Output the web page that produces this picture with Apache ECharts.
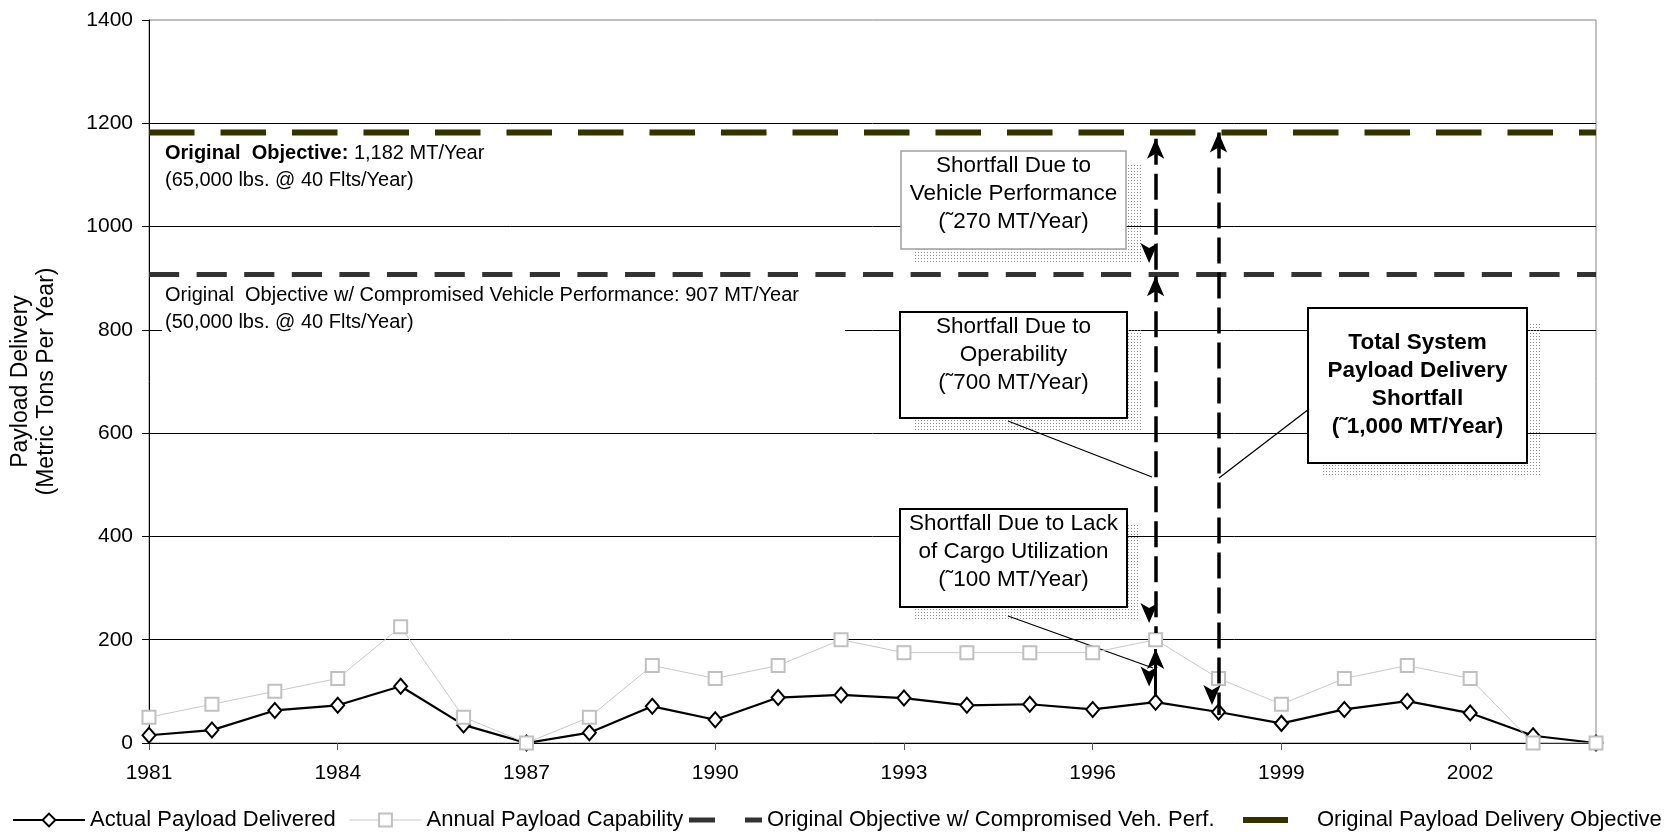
<!DOCTYPE html>
<html>
<head>
<meta charset="utf-8">
<script src="https://cdn.jsdelivr.net/npm/echarts@6/dist/echarts.min.js"></script>
<style>html,body{margin:0;padding:0;background:#fff}#c{width:1671px;height:835px}</style>
</head>
<body>
<div id="c"></div>
<script>
// ---------- data ----------
const years = ['1981','1982','1983','1984','1985','1986','1987','1988','1989','1990','1991','1992',
               '1993','1994','1995','1996','1997','1998','1999','2000','2001','2002','2003','2004'];
const actualDelivered = [15,25,63,73,110,35,0,20,71,45,88,93,87,73,75,65,79,60,38,65,81,58,14,0];
const annualCapability = [50,75,100,125,225,50,0,50,150,125,150,200,175,175,175,175,200,125,75,125,150,125,0,0];
const objectiveOriginal = 1182;
const objectiveCompromised = 907;
const yMin = 0, yMax = 1400, yStep = 200;
// shortfall arrows (year, from value, to value)
const shortfallVehicle = ['1997', 1170, 910];
const shortfallOperability = ['1997', 904, 213];
const shortfallCargo = ['1997', 182, 90];
const shortfallTotal = ['1998', 1182, 54];

const FONT = '"Liberation Sans", Arial, sans-serif';
const chart = echarts.init(document.getElementById('c'), null, {renderer: 'canvas', width: 1671, height: 835});

function dotPattern() {
  const c = document.createElement('canvas');
  c.width = 3; c.height = 3;
  const g = c.getContext('2d');
  g.fillStyle = '#8f8f8f';
  g.fillRect(0, 0, 1, 1);
  return {image: c, repeat: 'repeat'};
}
const pattern = dotPattern();

function annotBox(x, y, w, h, stroke, lw, sx, sy, sw, sh) {
  return [
    {type: 'rect', z: 1, silent: true, shape: {x: sx, y: sy, width: sw, height: sh}, style: {fill: pattern}},
    {type: 'rect', z: 1, silent: true, shape: {x: x, y: y, width: w, height: h}, style: {fill: '#fff', stroke: stroke, lineWidth: lw}}
  ];
}
function boxText(text, cx, cy, bold) {
  return {type: 'text', z: 2, silent: true, style: {
    text: text, x: cx, y: cy, align: 'center', verticalAlign: 'middle',
    fontSize: 22.5, fontFamily: FONT, fontWeight: bold ? 'bold' : 'normal', lineHeight: 28, fill: '#000'
  }};
}
function leader(x1, y1, x2, y2) {
  return {type: 'line', z: 2, silent: true, shape: {x1: x1, y1: y1, x2: x2, y2: y2}, style: {stroke: '#000', lineWidth: 1.3}};
}

const graphics = [].concat(
  // white background of the compromised-objective label
  [{type: 'rect', z: 1, silent: true, shape: {x: 162, y: 282, width: 683, height: 54}, style: {fill: '#fff'}}],
  annotBox(901, 151, 225, 98, '#a0a0a0', 1.5, 914, 165, 227, 98),
  annotBox(900, 312, 227, 106, '#000', 2, 914, 328, 227, 103),
  annotBox(900, 509, 227, 98, '#000', 2, 914, 524, 226, 96),
  annotBox(1308, 308, 219, 155, '#000', 2, 1321, 324, 221, 152),
  [
    boxText('Shortfall Due to\nVehicle Performance\n(\u02DC270 MT/Year)', 1013.5, 193.5),
    boxText('Shortfall Due to\nOperability\n(\u02DC700 MT/Year)', 1013.5, 355),
    boxText('Shortfall Due to Lack\nof Cargo Utilization\n(\u02DC100 MT/Year)', 1013.5, 551.5),
    boxText('Total System\nPayload Delivery\nShortfall\n(\u02DC1,000 MT/Year)', 1417.5, 385, true),
    leader(1008, 421, 1152, 477),
    leader(1008, 616, 1153, 668),
    leader(1309, 409, 1219, 478),
    {type: 'text', z: 2, silent: true, style: {
      text: '{b|Original  Objective:}{n| 1,182 MT/Year}\n{n|(65,000 lbs. @ 40 Flts/Year)}',
      x: 165, y: 167, verticalAlign: 'middle', align: 'left', lineHeight: 27,
      fontSize: 20, fontFamily: FONT, fill: '#000',
      rich: {
        b: {fontWeight: 'bold', fontSize: 20, fontFamily: FONT, lineHeight: 27, fill: '#000'},
        n: {fontSize: 20, fontFamily: FONT, lineHeight: 27, fill: '#000'}
      }
    }},
    {type: 'text', z: 2, silent: true, style: {
      text: 'Original  Objective w/ Compromised Vehicle Performance: 907 MT/Year\n(50,000 lbs. @ 40 Flts/Year)',
      x: 165, y: 308.5, verticalAlign: 'middle', align: 'left', lineHeight: 27,
      fontSize: 20, fontFamily: FONT, fill: '#000'
    }}
  ]
);

const arrowLine = (seg, dashed, width) => [
  {coord: [seg[0], seg[1]], lineStyle: {type: dashed ? [26, 9] : 'solid', width: width, color: '#000'}},
  {coord: [seg[0], seg[2]]}
];

const legendText = {fontSize: 22, fontFamily: FONT, color: '#000'};
const legendBase = {top: 809, orient: 'horizontal', selectedMode: false, textStyle: legendText, padding: 0};

chart.setOption({
  animation: false,
  backgroundColor: '#fff',
  grid: {left: 149, right: 75, top: 20, bottom: 92, show: true, borderColor: '#808080', borderWidth: 1, backgroundColor: 'transparent'},
  xAxis: {
    type: 'category', data: years, boundaryGap: false,
    axisLine: {show: true, lineStyle: {color: '#000', width: 1}},
    axisTick: {show: true, interval: 2, length: 7, lineStyle: {color: '#555'}},
    axisLabel: {interval: 2, fontSize: 21, fontFamily: FONT, color: '#000', margin: 20},
    splitLine: {show: false}
  },
  yAxis: {
    type: 'value', min: yMin, max: yMax, interval: yStep,
    name: 'Payload Delivery\n(Metric Tons Per Year)', nameLocation: 'middle', nameGap: 89,
    nameTextStyle: {fontSize: 23, fontFamily: FONT, color: '#000', lineHeight: 26},
    axisLine: {show: true, lineStyle: {color: '#000', width: 1}},
    axisTick: {show: true, length: 7, lineStyle: {color: '#000'}},
    axisLabel: {fontSize: 21, fontFamily: FONT, color: '#000', margin: 16, formatter: (v) => String(v)},
    splitLine: {show: true, showMaxLine: false, lineStyle: {color: '#000', width: 1}}
  },
  legend: [
    Object.assign({}, legendBase, {left: 12, itemWidth: 72, itemHeight: 16, data: ['Actual Payload Delivered']}),
    Object.assign({}, legendBase, {left: 349, itemWidth: 72, itemHeight: 16, lineStyle: {width: 1}, data: ['Annual Payload Capability']}),
    Object.assign({}, legendBase, {left: 689, itemWidth: 73, itemHeight: 5,
      data: [{name: 'Original Objective w/ Compromised Veh. Perf.', icon: 'path://M0,0H26V5H0ZM56,0H73V5H56Z'}]}),
    Object.assign({}, legendBase, {left: 1243, itemWidth: 45, itemHeight: 6,
      textStyle: Object.assign({}, legendText, {padding: [0, 0, 0, 24]}),
      data: [{name: 'Original Payload Delivery Objective', icon: 'rect'}]})
  ],
  graphic: graphics,
  series: [
    {
      name: 'Actual Payload Delivered', type: 'line', data: actualDelivered, z: 3,
      symbol: 'diamond', symbolSize: [13, 15], showAllSymbol: true,
      itemStyle: {color: '#fff', borderColor: '#000', borderWidth: 2},
      lineStyle: {color: '#000', width: 2.2}
    },
    {
      name: 'Annual Payload Capability', type: 'line', data: annualCapability, z: 4,
      symbol: 'rect', symbolSize: 13, showAllSymbol: true,
      itemStyle: {color: '#fff', borderColor: '#c0c0c0', borderWidth: 2},
      lineStyle: {color: '#c8c8c8', width: 1}
    },
    {
      name: 'Original Objective w/ Compromised Veh. Perf.', type: 'line', z: 2,
      data: [[years[0], objectiveCompromised], [years[years.length - 1], objectiveCompromised]],
      symbol: 'none', itemStyle: {color: '#333333'},
      lineStyle: {color: '#333333', width: 5, type: [30.2, 17.4]}
    },
    {
      name: 'Original Payload Delivery Objective', type: 'line', z: 5,
      data: [[years[0], objectiveOriginal], [years[years.length - 1], objectiveOriginal]],
      symbol: 'none', itemStyle: {color: '#333300'},
      lineStyle: {color: '#333300', width: 6, type: [45.5, 26]},
      markLine: {
        silent: true, animation: false,
        symbol: ['arrow', 'arrow'], symbolSize: [13, 20], symbolOffset: [0, '50%'],
        label: {show: false},
        emphasis: {disabled: true},
        lineStyle: {color: '#000'},
        itemStyle: {color: '#000'},
        data: [
          arrowLine(shortfallVehicle, true, 3.5),
          arrowLine(shortfallOperability, true, 3.5),
          arrowLine(shortfallCargo, false, 3),
          arrowLine(shortfallTotal, true, 3.5)
        ]
      }
    }
  ]
});
</script>
</body>
</html>
